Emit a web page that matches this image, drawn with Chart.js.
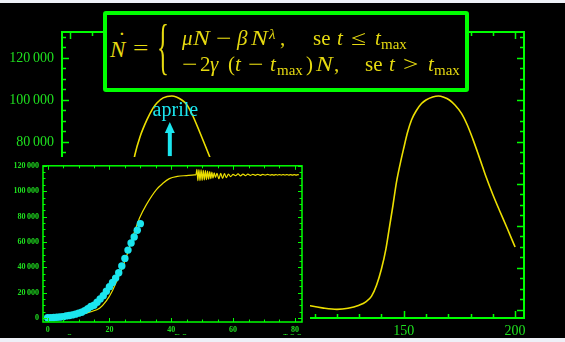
<!DOCTYPE html>
<html>
<head>
<meta charset="utf-8">
<script src="https://cdn.jsdelivr.net/npm/chart.js@4.4.1/dist/chart.umd.min.js"></script>
<style>
  html, body { margin: 0; padding: 0; }
  body { width: 565px; height: 342px; background: #000; position: relative; overflow: hidden; font-family: "Liberation Serif", "Times New Roman", serif; }
  .strip { position: absolute; left: 0; width: 565px; background: #eef0f7; z-index: 10; }
  #main { position: absolute; left: 0; top: 0; }
  #eqbox { position: absolute; left: 103px; top: 11px; width: 366px; height: 81px; box-sizing: border-box; border: 4px solid #00ff00; border-radius: 3px; background: #000; }
  #eq span { position: absolute; font-size: 21px; line-height: 1; color: #e6da10; white-space: pre; }
  #eq .i { font-style: italic; }
  #eq .s { font-size: 15px; }
  #eq .op { transform: scaleX(1.3); transform-origin: left center; }
  #eq .w { transform: scaleX(1.2); transform-origin: left center; }
  #insetBox { position: absolute; left: 0; top: 157px; width: 310px; height: 177px; background: #000; }
</style>
</head>
<body>
<canvas id="main" width="565" height="342"></canvas>

<div id="eqbox"></div>
<div id="eq">
  <span class="i" style="left:110px;top:37.7px;font-size:23px">N</span>
  <span style="left:118px;top:29px;font-size:23px">˙</span>
  <span class="op" style="left:133px;top:38.4px">=</span>
  <span style="left:157px;top:15px;font-size:62px;transform:scaleX(0.4);transform-origin:left top">{</span>

  <span class="i" style="left:182px;top:28.4px">μ</span>
  <span class="i w" style="left:193px;top:28.4px">N</span>
  <span class="op" style="left:216px;top:28.4px">−</span>
  <span class="i" style="left:237px;top:28.4px">β</span>
  <span class="i w" style="left:251px;top:28.4px">N</span>
  <span class="i s" style="left:269px;top:27.4px">λ</span>
  <span style="left:280px;top:28.4px">,</span>
  <span style="left:313px;top:28.4px">se</span>
  <span class="i" style="left:337px;top:28.4px">t</span>
  <span class="op" style="left:351px;top:28.4px">≤</span>
  <span class="i" style="left:375px;top:28.4px">t</span>
  <span class="s" style="left:381px;top:37.4px">max</span>

  <span class="op" style="left:182px;top:53.9px">−</span>
  <span style="left:200px;top:53.9px">2</span>
  <span class="i" style="left:210px;top:53.9px">γ</span>
  <span style="left:228px;top:53.9px">(</span>
  <span class="i" style="left:235px;top:53.9px">t</span>
  <span class="op" style="left:248px;top:53.9px">−</span>
  <span class="i" style="left:270px;top:53.9px">t</span>
  <span class="s" style="left:277px;top:62.9px">max</span>
  <span style="left:306px;top:53.9px">)</span>
  <span class="i w" style="left:316px;top:53.9px">N</span>
  <span style="left:334px;top:53.9px">,</span>
  <span style="left:365px;top:53.9px">se</span>
  <span class="i" style="left:389px;top:53.9px">t</span>
  <span class="op" style="left:403px;top:53.9px">&gt;</span>
  <span class="i" style="left:428px;top:53.9px">t</span>
  <span class="s" style="left:434px;top:62.9px">max</span>
</div>

<div id="insetBox"><canvas id="inset" width="310" height="177"></canvas></div>

<div class="strip" style="top:0;height:3px"></div>
<div class="strip" style="top:338px;height:4px"></div>

<script>
// main curve: modelled cases over the whole period
const mainDays = [0, 5, 10, 15, 20, 24, 27, 29.3, 31.6, 34.7, 37.4, 39.2, 42, 45.9, 50.4, 52.6, 55.3, 58.5,
  62.9, 66, 70, 75, 80, 85, 90, 95, 100, 104, 108, 114, 120, 125, 130, 133, 135.5, 137.8, 140, 142,
  143.6, 145.2, 146.7, 148.4, 150, 151.7, 153.5, 155.7, 158, 160, 163, 165.6, 168, 170.5, 173,
  176, 178.5, 181, 183, 185.4, 187, 190, 193, 196.5, 200];
const mainCases = [150, 800, 2600, 8000, 20000, 40000, 60500, 73800, 82400, 90500, 96000, 98600, 101000, 101900, 100000, 97800, 92500, 84500,
  73000, 65000, 54500, 41500, 29500, 19500, 12000, 7000, 4200, 3000, 2000, 900, 300, 800, 2300, 3900, 6500, 11800, 19500, 29000,
  39500, 50000, 60500, 69500, 77000, 84500, 90500, 95000, 98300, 100000, 101400, 101900, 101300, 100000, 97600,
  93500, 88200, 81500, 75600, 68200, 63300, 55000, 47400, 38800, 30000];

// inset: fitted curve
const fitDays = [0, 3, 6, 9, 11.3, 14, 16.8, 19, 21, 22.5, 24.2, 25.7, 27.1, 28.4, 29.7, 32, 35.2, 37.2, 39.4, 42, 44.9, 47.5,
  48, 48.3, 48.6, 48.95, 49.3, 49.65, 50, 50.35, 50.7, 51.05, 51.4, 51.75, 52.1, 52.45, 52.8, 53.15, 53.5, 53.9, 54.3,
  54.8, 55.4, 56, 56.6, 57.2, 57.8, 58.5, 59.2, 60,
  60.8, 61.6, 62.4, 63.2, 64, 64.8, 65.6, 66.4, 67.2, 68, 68.8, 69.6, 70.4, 71.2, 72,
  72.6, 73.2, 73.8, 74.4, 75, 75.6, 76.2, 76.8, 77.4, 78, 78.6, 79.2, 79.8, 80.4, 81, 81.3];
const fitCases = [300, 900, 1700, 2500, 3100, 5000, 7800, 13500, 21800, 30000, 39700, 50000, 60800, 70000, 78700, 89600, 101300, 106000, 109900, 111600, 112300, 112800,
  113000, 117300, 108200, 117000, 108300, 116800, 108500, 116500, 108800, 116200, 109100, 115800, 109500, 115400, 109900, 115000, 110300, 114500, 110800,
  114000, 109800, 114000, 110000, 113800, 110600, 113500, 111500, 113200,
  112200, 113600, 112000, 113500, 112300, 113400, 112400, 113300, 112500, 113300, 112500, 113200, 112600, 113200, 112600,
  113100, 112600, 113100, 112700, 113100, 112700, 113100, 112700, 113100, 112700, 113000, 112700, 113000, 112700, 113000, 112900];

// inset: observed data (dots)
const obsDays = [0, 1, 2, 3, 4, 5, 6, 7, 8, 9, 10, 11, 12, 13, 14, 15, 16, 17, 18, 19, 20, 21, 22, 23, 24, 25, 26, 27, 28, 29, 30];
const obsCases = [230, 320, 400, 650, 890, 1130, 1690, 2040, 2500, 3090, 3860, 4640, 5880, 7380, 9170, 10150, 12460, 15110,
  17660, 21160, 24750, 27980, 31510, 35710, 41040, 47020, 53580, 59140, 63930, 69180, 74390];

const mainXLabels = [0, 50, 100, 150, 200];
const mainYLabels = [0, 20000, 40000, 60000, 80000, 100000, 120000];
const insetXLabels = [0, 20, 40, 60, 80];
const insetYLabels = [0, 20000, 40000, 60000, 80000, 100000, 120000];

const GREEN = '#00ff00', LABEL = '#1fe01f', YELLOW = '#ecdf00', CYAN = '#1be6ef';

const pts = (xs, ys) => xs.map((x, i) => ({ x, y: ys[i] }));
const fmt = v => String(v).replace(/\B(?=(\d{3})+(?!\d))/g, '\u2009');

function tickList(min, max, step) {
  const out = [];
  for (let v = Math.ceil(min / step) * step; v <= max; v += step) out.push({ value: v });
  return out;
}

function axis(min, max, minor, labels, font, pad, fit) {
  return {
    type: 'linear', min, max,
    grid: { display: false, drawTicks: false },
    border: { display: false },
    afterBuildTicks: s => { s.ticks = tickList(min, max, minor); },
    afterFit: fit,
    ticks: {
      autoSkip: false, maxRotation: 0, padding: pad, color: LABEL, font,
      callback: v => labels.includes(v) ? fmt(v) : ''
    }
  };
}

// green box with inward ticks on all four sides
const framePlugin = {
  id: 'frame',
  afterDatasetsDraw(chart, args, o) {
    const { ctx, chartArea: a, scales: { x, y } } = chart;
    ctx.save();
    ctx.strokeStyle = GREEN;
    ctx.lineWidth = o.width;
    ctx.strokeRect(a.left, a.top, a.right - a.left, a.bottom - a.top);
    ctx.lineWidth = o.tickWidth;
    ctx.beginPath();
    x.ticks.forEach(t => {
      const p = Math.round(x.getPixelForValue(t.value)) + 0.5;
      const len = o.xMajor.includes(t.value) ? o.major : o.minor;
      ctx.moveTo(p, a.bottom); ctx.lineTo(p, a.bottom - len);
      ctx.moveTo(p, a.top); ctx.lineTo(p, a.top + len);
    });
    y.ticks.forEach(t => {
      const p = Math.round(y.getPixelForValue(t.value)) + 0.5;
      const len = o.yMajor.includes(t.value) ? o.major : o.minor;
      ctx.moveTo(a.left, p); ctx.lineTo(a.left + len, p);
      ctx.moveTo(a.right, p); ctx.lineTo(a.right - len, p);
    });
    ctx.stroke();
    ctx.restore();
  }
};

// cyan arrow with its label
const arrowPlugin = {
  id: 'arrow',
  afterDatasetsDraw(chart, args, o) {
    const { ctx, scales: { x, y } } = chart;
    const px = x.getPixelForValue(o.day);
    const tip = y.getPixelForValue(o.tip), base = y.getPixelForValue(o.base);
    ctx.save();
    ctx.fillStyle = CYAN;
    ctx.fillRect(px - 2, tip + 9, 4, base - tip - 9);
    ctx.beginPath();
    ctx.moveTo(px, tip); ctx.lineTo(px - 5, tip + 11); ctx.lineTo(px + 5, tip + 11);
    ctx.closePath(); ctx.fill();
    ctx.font = '20px "Liberation Serif"';
    ctx.textAlign = 'center';
    ctx.textBaseline = 'alphabetic';
    ctx.fillText(o.text, x.getPixelForValue(o.textDay), y.getPixelForValue(o.textY));
    ctx.restore();
  }
};

const mainFont = { family: 'Liberation Serif', size: 14 };
const insetFont = { family: 'Liberation Serif', size: 8, weight: 'bold' };

new Chart(document.getElementById('main'), {
  type: 'scatter',
  data: {
    datasets: [{
      data: pts(mainDays, mainCases), showLine: true,
      borderColor: YELLOW, borderWidth: 1.6, pointRadius: 0,
      cubicInterpolationMode: 'monotone'
    }]
  },
  options: {
    responsive: false, animation: false, devicePixelRatio: 1,
    layout: { padding: { left: 0, top: 32, right: 41, bottom: 0 } },
    scales: {
      x: axis(-3.4, 204, 10, mainXLabels, mainFont, 5, s => { s.height = 24; }),
      y: axis(-3810, 132380, 5000, mainYLabels, mainFont, 8, s => { s.width = 62; })
    },
    plugins: {
      legend: { display: false }, tooltip: { enabled: false },
      frame: { width: 2, tickWidth: 1.5, minor: 4, major: 7, xMajor: mainXLabels, yMajor: mainYLabels },
      arrow: { day: 45, tip: 89500, base: 73300, textDay: 47.5, textY: 92400, text: 'aprile' }
    }
  },
  plugins: [framePlugin, arrowPlugin]
});

new Chart(document.getElementById('inset'), {
  type: 'scatter',
  data: {
    datasets: [
      { data: pts(obsDays, obsCases), backgroundColor: CYAN, borderWidth: 0, pointRadius: 3.7 },
      { data: pts(fitDays, fitCases), showLine: true, borderColor: YELLOW, borderWidth: 1.2, pointRadius: 0,
        cubicInterpolationMode: 'monotone' }
    ]
  },
  options: {
    responsive: false, animation: false, devicePixelRatio: 1,
    layout: { padding: { left: 0, top: 7, right: 8, bottom: 0 } },
    scales: {
      x: axis(-1.5, 82.3, 5, insetXLabels, insetFont, 3.5, s => { s.height = 12; }),
      y: axis(-3100, 120000, 5000, insetYLabels, insetFont, 4, s => { s.width = 43; })
    },
    plugins: {
      legend: { display: false }, tooltip: { enabled: false },
      frame: { width: 1.5, tickWidth: 1, minor: 2.5, major: 4, xMajor: insetXLabels, yMajor: insetYLabels }
    }
  },
  plugins: [framePlugin]
});
</script>
</body>
</html>
